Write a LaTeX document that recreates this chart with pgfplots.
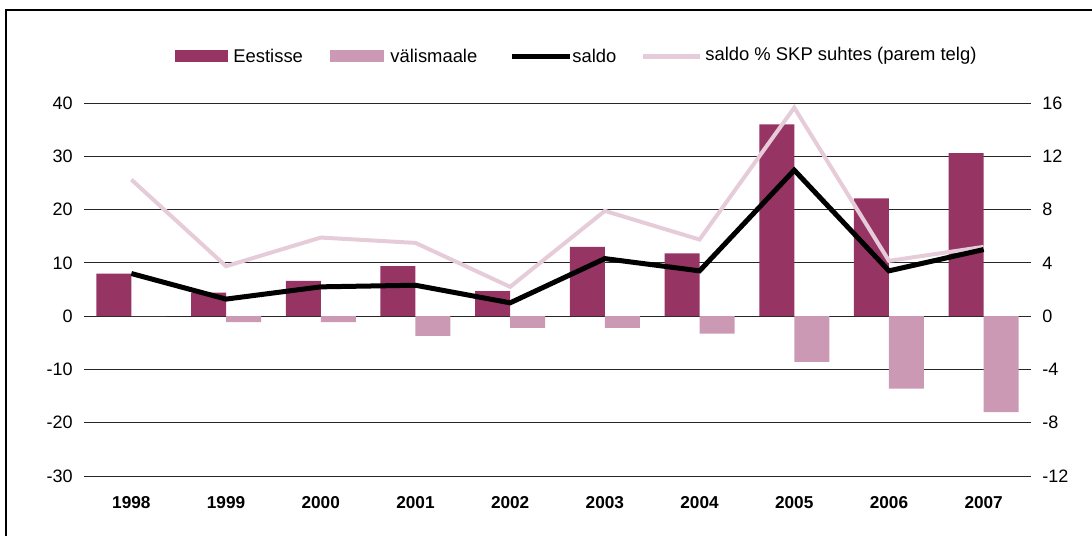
\documentclass[border=0pt]{standalone}
\usepackage{fontspec}
\setmainfont{Liberation Sans}
\usepackage{pgfplots}
\pgfplotsset{compat=1.18}
\definecolor{darkbar}{RGB}{150,52,100}
\definecolor{lightbar}{RGB}{204,153,180}
\definecolor{pinkline}{RGB}{230,204,216}
\pgfplotsset{base/.style={
  at={(42pt,-238pt)}, anchor=south west, scale only axis,
  width=473.5pt, height=186.5pt, xmin=-0.5, xmax=9.5,
  axis line style={draw=none}, major tick length=0pt,
  /pgf/number format/assume math mode=true,
  tick label style={font=\fontsize{9}{10}\selectfont},
}}
\begin{document}
\begin{tikzpicture}
\path[use as bounding box] (0pt,0pt) rectangle (546pt,-268pt);
\draw[line width=0.6pt] (3pt,-268pt) -- (3pt,-5pt) -- (546pt,-5pt);
% bars, left axis
\begin{axis}[base,
  ymin=-30, ymax=40, ytick={-30,-20,...,40},
  ymajorgrids, grid style={black!85, line width=0.5pt},
  xtick={0,...,9},
  xticklabels={1998,1999,2000,2001,2002,2003,2004,2005,2006,2007},
  xticklabel style={font=\fontsize{8.6}{10}\selectfont\bfseries, inner sep=0pt, yshift=-10pt},
  yticklabel style={inner sep=0pt, xshift=-5.5pt},
  ybar=0pt, bar width=17.5pt]
\addplot[fill=darkbar, draw=none] coordinates {(0,8.0) (1,4.4) (2,6.6) (3,9.4) (4,4.7) (5,13.0) (6,11.8) (7,36.0) (8,22.1) (9,30.6)};
\addplot[fill=lightbar, draw=none] coordinates {(0,0) (1,-1.1) (2,-1.1) (3,-3.7) (4,-2.2) (5,-2.2) (6,-3.3) (7,-8.6) (8,-13.6) (9,-18.0)};
\end{axis}
% right axis, saldo % SKP
\begin{axis}[base,
  ymin=-12, ymax=16, ytick={-12,-8,...,16},
  xtick=\empty, ytick pos=right, yticklabel pos=right,
  yticklabel style={inner sep=0pt, xshift=5.5pt}]
\addplot[pinkline, line width=2pt, line join=miter] coordinates {(0,10.25) (1,3.75) (2,5.9) (3,5.5) (4,2.2) (5,7.9) (6,5.75) (7,15.65) (8,4.15) (9,5.2)};
\end{axis}
% saldo, left axis
\begin{axis}[base, hide axis, ymin=-30, ymax=40]
\addplot[black, line width=2.5pt, line join=miter] coordinates {(0,8.0) (1,3.2) (2,5.5) (3,5.8) (4,2.5) (5,10.8) (6,8.5) (7,27.4) (8,8.5) (9,12.5)};
\end{axis}
% legend
\begin{scope}[every node/.style={anchor=west, inner sep=0pt, font=\fontsize{9.2}{10}\selectfont}]
\fill[darkbar] (87.5pt,-25pt) rectangle (114pt,-31pt);
\node at (116.5pt,-28pt) {Eestisse};
\fill[lightbar] (165pt,-25pt) rectangle (192pt,-31pt);
\node at (195pt,-28pt) {välismaale};
\draw[black, line width=2.5pt] (256pt,-28pt) -- (285pt,-28pt);
\node at (286pt,-28pt) {saldo};
\draw[pinkline, line width=2.5pt] (321.5pt,-28pt) -- (350pt,-28pt);
\node at (352.5pt,-28pt) {saldo \% SKP suhtes (parem telg)};
\end{scope}
\end{tikzpicture}
\end{document}
